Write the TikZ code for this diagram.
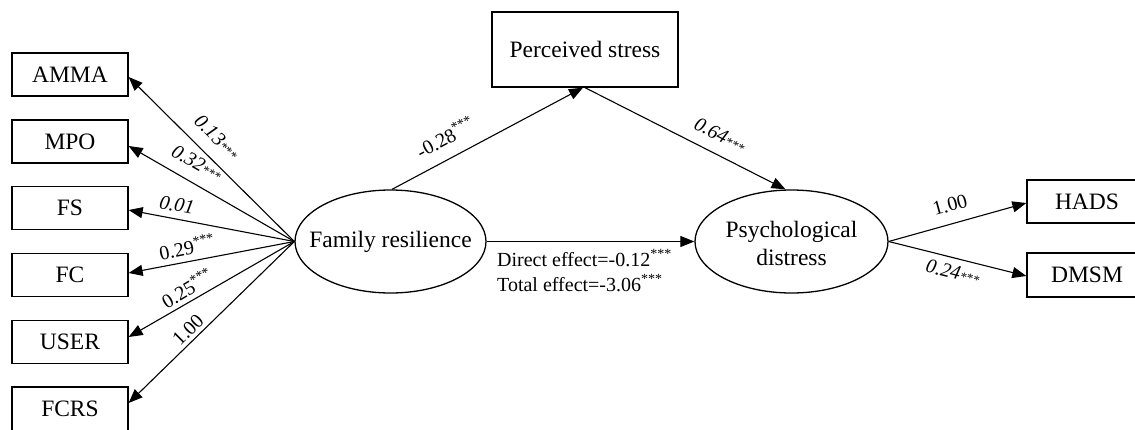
\documentclass[tikz,border=0pt]{standalone}
\usepackage{fontspec}
\setmainfont{Liberation Serif}
\usetikzlibrary{arrows.meta,shapes.geometric,calc}
\newcommand{\mysig}{\textsuperscript{***}}
\newcommand{\myisig}{{\fontsize{13}{13}\selectfont ***}}
\begin{document}
\begin{tikzpicture}[x=1pt,y=-1pt,
  ind/.style={draw, line width=1.3pt, minimum width=116pt, minimum height=43pt, inner sep=0pt, font=\fontsize{23.5}{26}\selectfont},
  lat/.style={draw, ellipse, line width=1.3pt, inner sep=0pt},
  lattext/.style={font=\fontsize{23.5}{28}\selectfont, align=center, inner sep=0pt},
  arr/.style={-{Triangle[length=14pt,width=11pt]}, line width=1.1pt},
  coef/.style={font=\fontsize{20}{22}\selectfont, inner sep=0pt},
  eff/.style={font=\fontsize{20}{22}\selectfont, inner sep=0pt, anchor=base west}]
\useasboundingbox (0,0) rectangle (1135,429);
\clip (0,0) rectangle (1135,429);
% observed indicators (left)
\node[ind] (amma) at (70,74.5) {AMMA};
\node[ind] (mpo) at (70,141.5) {MPO};
\node[ind] (fs) at (70,208) {FS};
\node[ind] (fc) at (70,275) {FC};
\node[ind] (user) at (70,342) {USER};
\node[ind,minimum height=44pt] (fcrs) at (70,409) {FCRS};
% latent variables
\node[lat, minimum width=191pt, minimum height=103pt] (fr) at (390.5,241.5) {};
\node[lattext] (frt) at (fr.center) {Family resilience};
\node[lat, minimum width=193pt, minimum height=103pt] (pd) at (791.5,241.5) {};
\node[lattext] (pdt) at ($(pd.center)+(0,2)$) {Psychological\\distress};
% mediator
\node[ind, minimum width=186pt, minimum height=75pt] (ps) at (585,49.5) {Perceived stress};
% right indicators
\node[ind, minimum width=120pt] (hads) at (1087,201.5) {HADS};
\node[ind, minimum width=120pt, minimum height=44pt] (dmsm) at (1087,275) {DMSM};
% connectors
\draw[arr] (fr.west) -- ($(amma.east)+(0,2.5)$);
\draw[arr] (fr.west) -- ($(mpo.east)+(0,4.5)$);
\draw[arr] (fr.west) -- ($(fs.east)+(0,2)$);
\draw[arr] (fr.west) -- ($(fc.east)+(0,-2)$);
\draw[arr] (fr.west) -- ($(user.east)+(0,-5)$);
\draw[arr] (fr.west) -- ($(fcrs.east)+(0,-6)$);
\draw[arr] ($(fr.north)+(1.5,0)$) -- ($(ps.south)+(-2,0)$);
\draw[arr] (ps.south) -- ($(pd.north)+(-6,0)$);
\draw[arr] (fr.east) -- (pd.west);
\draw[arr] (pd.east) -- ($(hads.west)+(0,1.5)$);
\draw[arr] (pd.east) -- ($(dmsm.west)+(0,1)$);
% coefficient labels
\node[coef, rotate=-45] (l1) at (217,137) {\itshape 0.13\myisig};
\node[coef, rotate=-29.8] (l2) at (197,163) {\itshape 0.32\myisig};
\node[coef, rotate=-10.4] (l3) at (177,205) {\itshape 0.01};
\node[coef, rotate=11.4] (l4) at (187,247) {0.29\mysig};
\node[coef, rotate=30.6] (l5) at (187,288) {0.25\mysig};
\node[coef, rotate=44.8] (l6) at (188,330) {1.00};
\node[coef, rotate=28.1] (l7) at (445,137) {-0.28\mysig};
\node[coef, rotate=-27] (l8) at (720,135) {\itshape 0.64\myisig};
\node[coef, rotate=15.3] (l9) at (950,205) {1.00};
\node[coef, rotate=-14.1] (l10) at (953,272) {\itshape 0.24\myisig};
\node[eff] (de) at (497,266.5) {Direct effect=-0.12\mysig};
\node[eff] (te) at (497,291.5) {Total effect=-3.06\mysig};
\end{tikzpicture}
\end{document}
